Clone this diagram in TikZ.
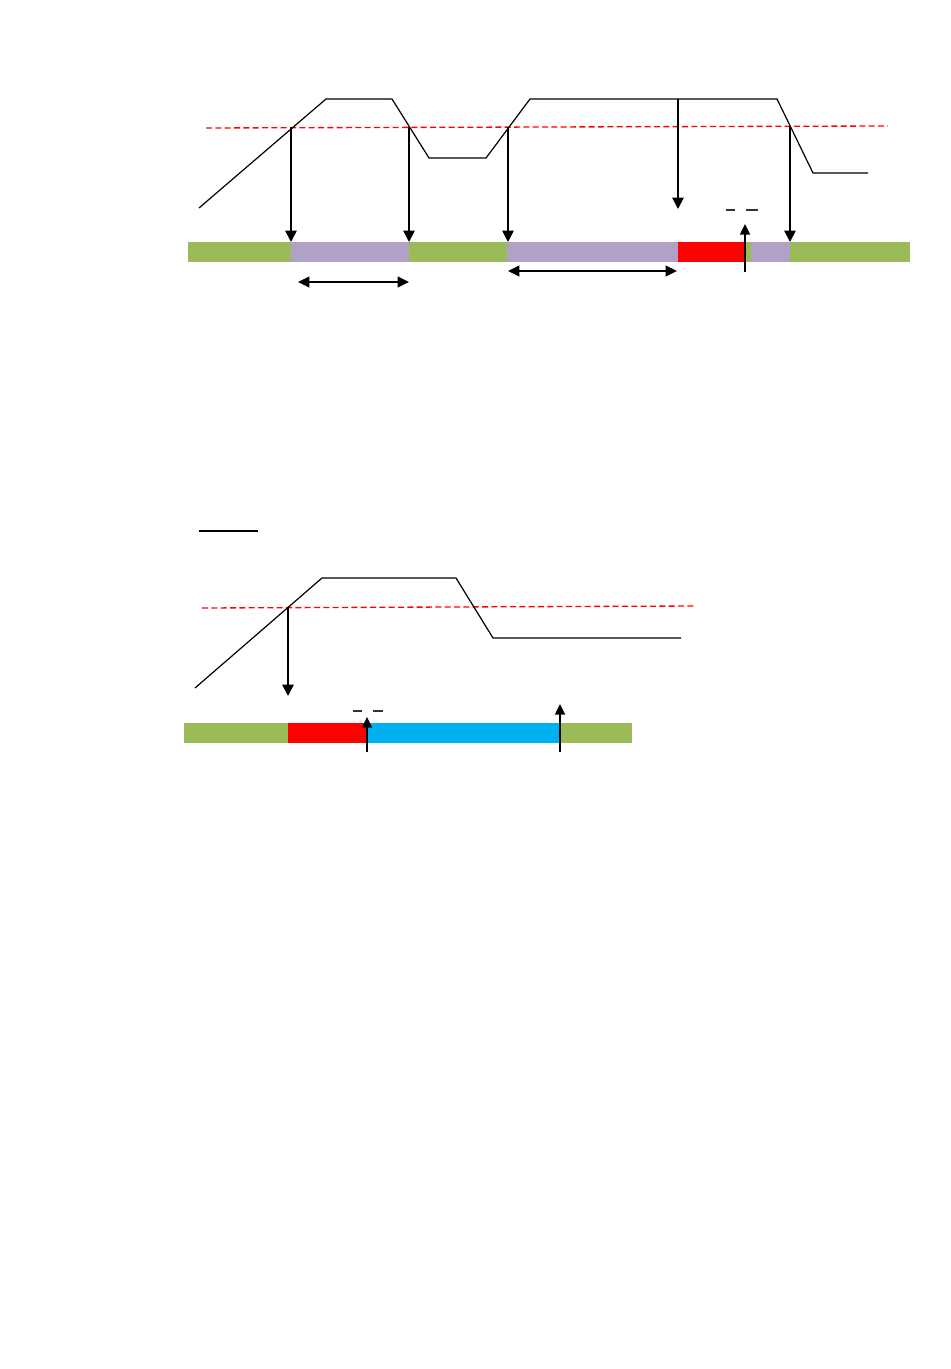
\documentclass[tikz,border=0pt]{standalone}
\usetikzlibrary{arrows.meta}
\definecolor{bargreen}{HTML}{9BBB59}
\definecolor{barpurple}{HTML}{B2A1C7}
\definecolor{barred}{HTML}{FF0000}
\definecolor{barblue}{HTML}{00B0F0}
\tikzset{
  curve/.style={line width=0.9pt, line join=miter},
  thresh/.style={draw=barred, line width=1pt, dash pattern=on 4.5pt off 2.5pt},
  downarr/.style={line width=1.3pt, -{Triangle[length=8.5pt,width=8.5pt]}},
  uparr/.style={line width=1.1pt, -{Triangle[length=8pt,width=7.5pt]}},
  dblarr/.style={line width=1.3pt, {Triangle[length=8.5pt,width=8pt]}-{Triangle[length=8.5pt,width=8pt]}},
  dashmark/.style={line width=1.3pt, black!80},
}
\begin{document}
\begin{tikzpicture}[x=0.75pt,y=-0.75pt]
\useasboundingbox (0,0) rectangle (950,1369);
\fill[white] (0,0) rectangle (950,1369);

% ---------------- top diagram ----------------
% bar
\fill[bargreen]  (188,242) rectangle (291,262);
\fill[barpurple] (291,242) rectangle (409,262);
\fill[bargreen]  (409,242) rectangle (507,262);
\fill[barpurple] (507,242) rectangle (678,262);
\fill[barred]    (678,242) rectangle (745,262);
\fill[bargreen]  (745,242) rectangle (751,262);
\fill[barpurple] (751,242) rectangle (790,262);
\fill[bargreen]  (790,242) rectangle (910,262);

% threshold
\coordinate (tl) at (206,128);
\coordinate (tr) at (888,126);
\draw[thresh] (tl) -- (tr);

% curve
\coordinate (c0) at (199,208);
\coordinate (c1) at (326,99);
\coordinate (c2) at (392,99);
\coordinate (c3) at (429,158);
\coordinate (c4) at (486,158);
\coordinate (c5) at (530,99);
\coordinate (c6) at (777,99);
\coordinate (c7) at (813,173);
\coordinate (c8) at (868,173);
\draw[curve] (c0) -- (c1) -- (c2) -- (c3) -- (c4) -- (c5) -- (c6) -- (c7) -- (c8);

% down arrows
\coordinate (a1s) at (291,127); \coordinate (a1e) at (291,242);
\coordinate (a2s) at (409,127); \coordinate (a2e) at (409,242);
\coordinate (a3s) at (508,127); \coordinate (a3e) at (508,242);
\coordinate (a4s) at (678,99);  \coordinate (a4e) at (678,209);
\coordinate (a5s) at (790,127); \coordinate (a5e) at (790,242);
\draw[downarr] (a1s) -- (a1e);
\draw[downarr] (a2s) -- (a2e);
\draw[downarr] (a3s) -- (a3e);
\draw[downarr] (a4s) -- (a4e);
\draw[downarr] (a5s) -- (a5e);

% up arrow
\coordinate (u1s) at (745,272); \coordinate (u1e) at (745,224);
\draw[uparr] (u1s) -- (u1e);

% dash marks
\draw[dashmark] (726,210) -- (735,210);
\draw[dashmark] (746,210) -- (758,210);

% double arrows
\coordinate (d1l) at (298,282); \coordinate (d1r) at (409,282);
\coordinate (d2l) at (508,271); \coordinate (d2r) at (677,271);
\draw[dblarr] (d1l) -- (d1r);
\draw[dblarr] (d2l) -- (d2r);

% ---------------- bottom diagram ----------------
\coordinate (lgl) at (199,531); \coordinate (lgr) at (258,531);
\draw[line width=1.3pt] (lgl) -- (lgr);

% bar
\fill[bargreen] (184,723) rectangle (288,743);
\fill[barred]   (288,723) rectangle (367,743);
\fill[barblue]  (367,723) rectangle (561,743);
\fill[bargreen] (561,723) rectangle (632,743);

% threshold
\coordinate (bl) at (202,608);
\coordinate (br) at (696,606);
\draw[thresh] (bl) -- (br);

% curve
\coordinate (e0) at (195,688);
\coordinate (e1) at (322,578);
\coordinate (e2) at (456,578);
\coordinate (e3) at (493,638);
\coordinate (e4) at (681,638);
\draw[curve] (e0) -- (e1) -- (e2) -- (e3) -- (e4);

% down arrow
\coordinate (b1s) at (288,607); \coordinate (b1e) at (288,696);
\draw[downarr] (b1s) -- (b1e);

% up arrows
\coordinate (b2s) at (367,752); \coordinate (b2e) at (367,717);
\coordinate (b3s) at (560,752); \coordinate (b3e) at (560,704);
\draw[uparr] (b2s) -- (b2e);
\draw[uparr] (b3s) -- (b3e);

% dash marks
\draw[dashmark] (353,711) -- (362,711);
\draw[dashmark] (373,711) -- (383,711);
\end{tikzpicture}
\end{document}
